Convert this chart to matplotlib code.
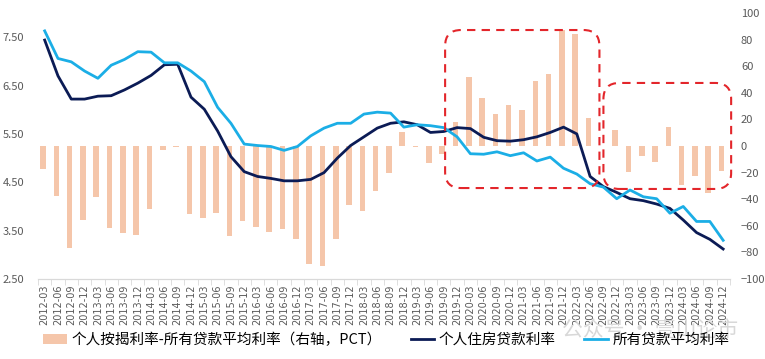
import matplotlib
matplotlib.use("Agg")
import matplotlib.pyplot as plt
from matplotlib.patches import FancyBboxPatch
import numpy as np

plt.rcParams['font.family'] = ['Noto Sans CJK SC', 'DejaVu Sans']

quarters = [f"{y}-{m}" for y in range(2012, 2025) for m in ("03", "06", "09", "12")]

housing_rate = [7.44, 6.70, 6.22, 6.22, 6.28, 6.29, 6.41, 6.55, 6.71, 6.93,
                6.94, 6.26, 6.01, 5.56, 5.03, 4.72, 4.62, 4.58, 4.53, 4.53,
                4.56, 4.70, 5.00, 5.26, 5.44, 5.62, 5.72, 5.75, 5.69, 5.53,
                5.55, 5.63, 5.61, 5.43, 5.36, 5.35, 5.38, 5.44, 5.53, 5.64,
                5.50, 4.62, 4.41, 4.29, 4.16, 4.12, 4.05, 3.96, 3.72, 3.46,
                3.32, 3.12]

all_loan_rate = [7.63, 7.06, 6.99, 6.80, 6.65, 6.92, 7.04, 7.20, 7.19, 6.97,
                 6.97, 6.80, 6.58, 6.05, 5.72, 5.29, 5.26, 5.24, 5.16, 5.24,
                 5.46, 5.62, 5.72, 5.72, 5.91, 5.95, 5.93, 5.64, 5.69, 5.67,
                 5.63, 5.44, 5.09, 5.08, 5.13, 5.05, 5.11, 4.94, 5.02, 4.79,
                 4.67, 4.47, 4.40, 4.16, 4.34, 4.20, 4.16, 3.86, 4.00, 3.69,
                 3.69, 3.30]

spread_bp = [-17.5, -37.6, -76.5, -55.6, -38.1, -61.7, -65.2, -66.7, -47.6, -3.0,
             -1.0, -51.4, -54.4, -50.6, -67.7, -56.2, -60.7, -64.4, -62.4, -69.7,
             -89.0, -90.0, -69.7, -44.6, -48.6, -33.8, -20.0, 10.8, -1.0, -12.5,
             -6.3, 17.8, 51.7, 36.3, 24.0, 31.0, 27.0, 48.9, 54.0, 87.0,
             84.0, 20.8, 0.0, 12.0, -19.8, -7.5, -11.8, 14.5, -29.3, -22.6,
             -35.6, -18.6]

left_ticks = [2.5, 3.5, 4.5, 5.5, 6.5, 7.5]
right_ticks = list(range(-100, 101, 20))

c_bar = '#F5C6AA'
c_dark = '#0B1B55'
c_light = '#1BAEE6'
c_tick = '#595959'
c_red = '#E3262B'

fig = plt.figure(figsize=(7.65, 3.59), dpi=100)
ax_bar = fig.add_axes([0.0497, 0.2228, 0.9043, 0.741])
x = np.arange(len(quarters))

bars = ax_bar.bar(x - 0.12, spread_bp, width=0.42, color=c_bar, zorder=1,
                  label='个人按揭利率-所有贷款平均利率（右轴，PCT）')
ax_bar.set_ylim(-100, 100)
ax_bar.set_xlim(-0.5, len(quarters) - 0.5)

ax_line = ax_bar.twinx()
l1, = ax_line.plot(x, housing_rate, color=c_dark, lw=2.0, label='个人住房贷款利率')
l2, = ax_line.plot(x, all_loan_rate, color=c_light, lw=2.0, label='所有贷款平均利率')
ax_line.set_ylim(2.5, 8.0)

# right axis for bars, left axis for lines
ax_bar.yaxis.tick_right()
ax_bar.set_yticks(right_ticks)
ax_bar.tick_params(axis='y', length=0, pad=8, labelsize=8, labelcolor=c_tick)
ax_line.yaxis.tick_left()
ax_line.set_yticks(left_ticks)
ax_line.set_yticklabels([f"{v:.2f}" for v in left_ticks])
ax_line.tick_params(axis='y', length=0, pad=10, labelsize=8, labelcolor=c_tick)

for a in (ax_bar, ax_line):
    for s in ('top', 'left', 'right'):
        a.spines[s].set_visible(False)
    a.spines['bottom'].set_color('#D9D9D9')

ax_bar.set_xticks(x)
ax_bar.set_xticklabels(quarters, rotation=90, fontsize=7, color=c_tick,
                       family='DejaVu Sans')
ax_bar.tick_params(axis='x', length=0, pad=4)
ax_bar.set_xticks(np.arange(-0.5, len(quarters), 1.0), minor=True)
ax_bar.tick_params(axis='x', which='minor', length=4, color='#D9D9D9')

# dashed highlight boxes (x in category units, y in right-axis units)
boxes = [(30.1, -31.6, 41.7, 87.2), (42.0, -32.3, 51.6, 47.4)]
for x0, y0, x1, y1 in boxes:
    p = FancyBboxPatch((x0, y0), x1 - x0, y1 - y0,
                       boxstyle="round,pad=0,rounding_size=1.2",
                       mutation_aspect=10, fill=False, edgecolor=c_red,
                       lw=1.5, ls=(0, (4, 3)), zorder=5, clip_on=False)
    ax_line.add_artist(p)
    p.set_transform(ax_bar.transData)

fig.text(0.85, 0.082, '公众号 · 壹山论市', fontsize=15, color='#D8D8D8',
         ha='center', va='center', zorder=0)

fig.legend(handles=[bars, l1, l2], loc='center', bbox_to_anchor=(0.505, 0.053),
           ncol=3, frameon=False, fontsize=10.5, handlelength=1.6,
           handletextpad=0.3, columnspacing=2.0)

fig.savefig('out.png', dpi=100)
